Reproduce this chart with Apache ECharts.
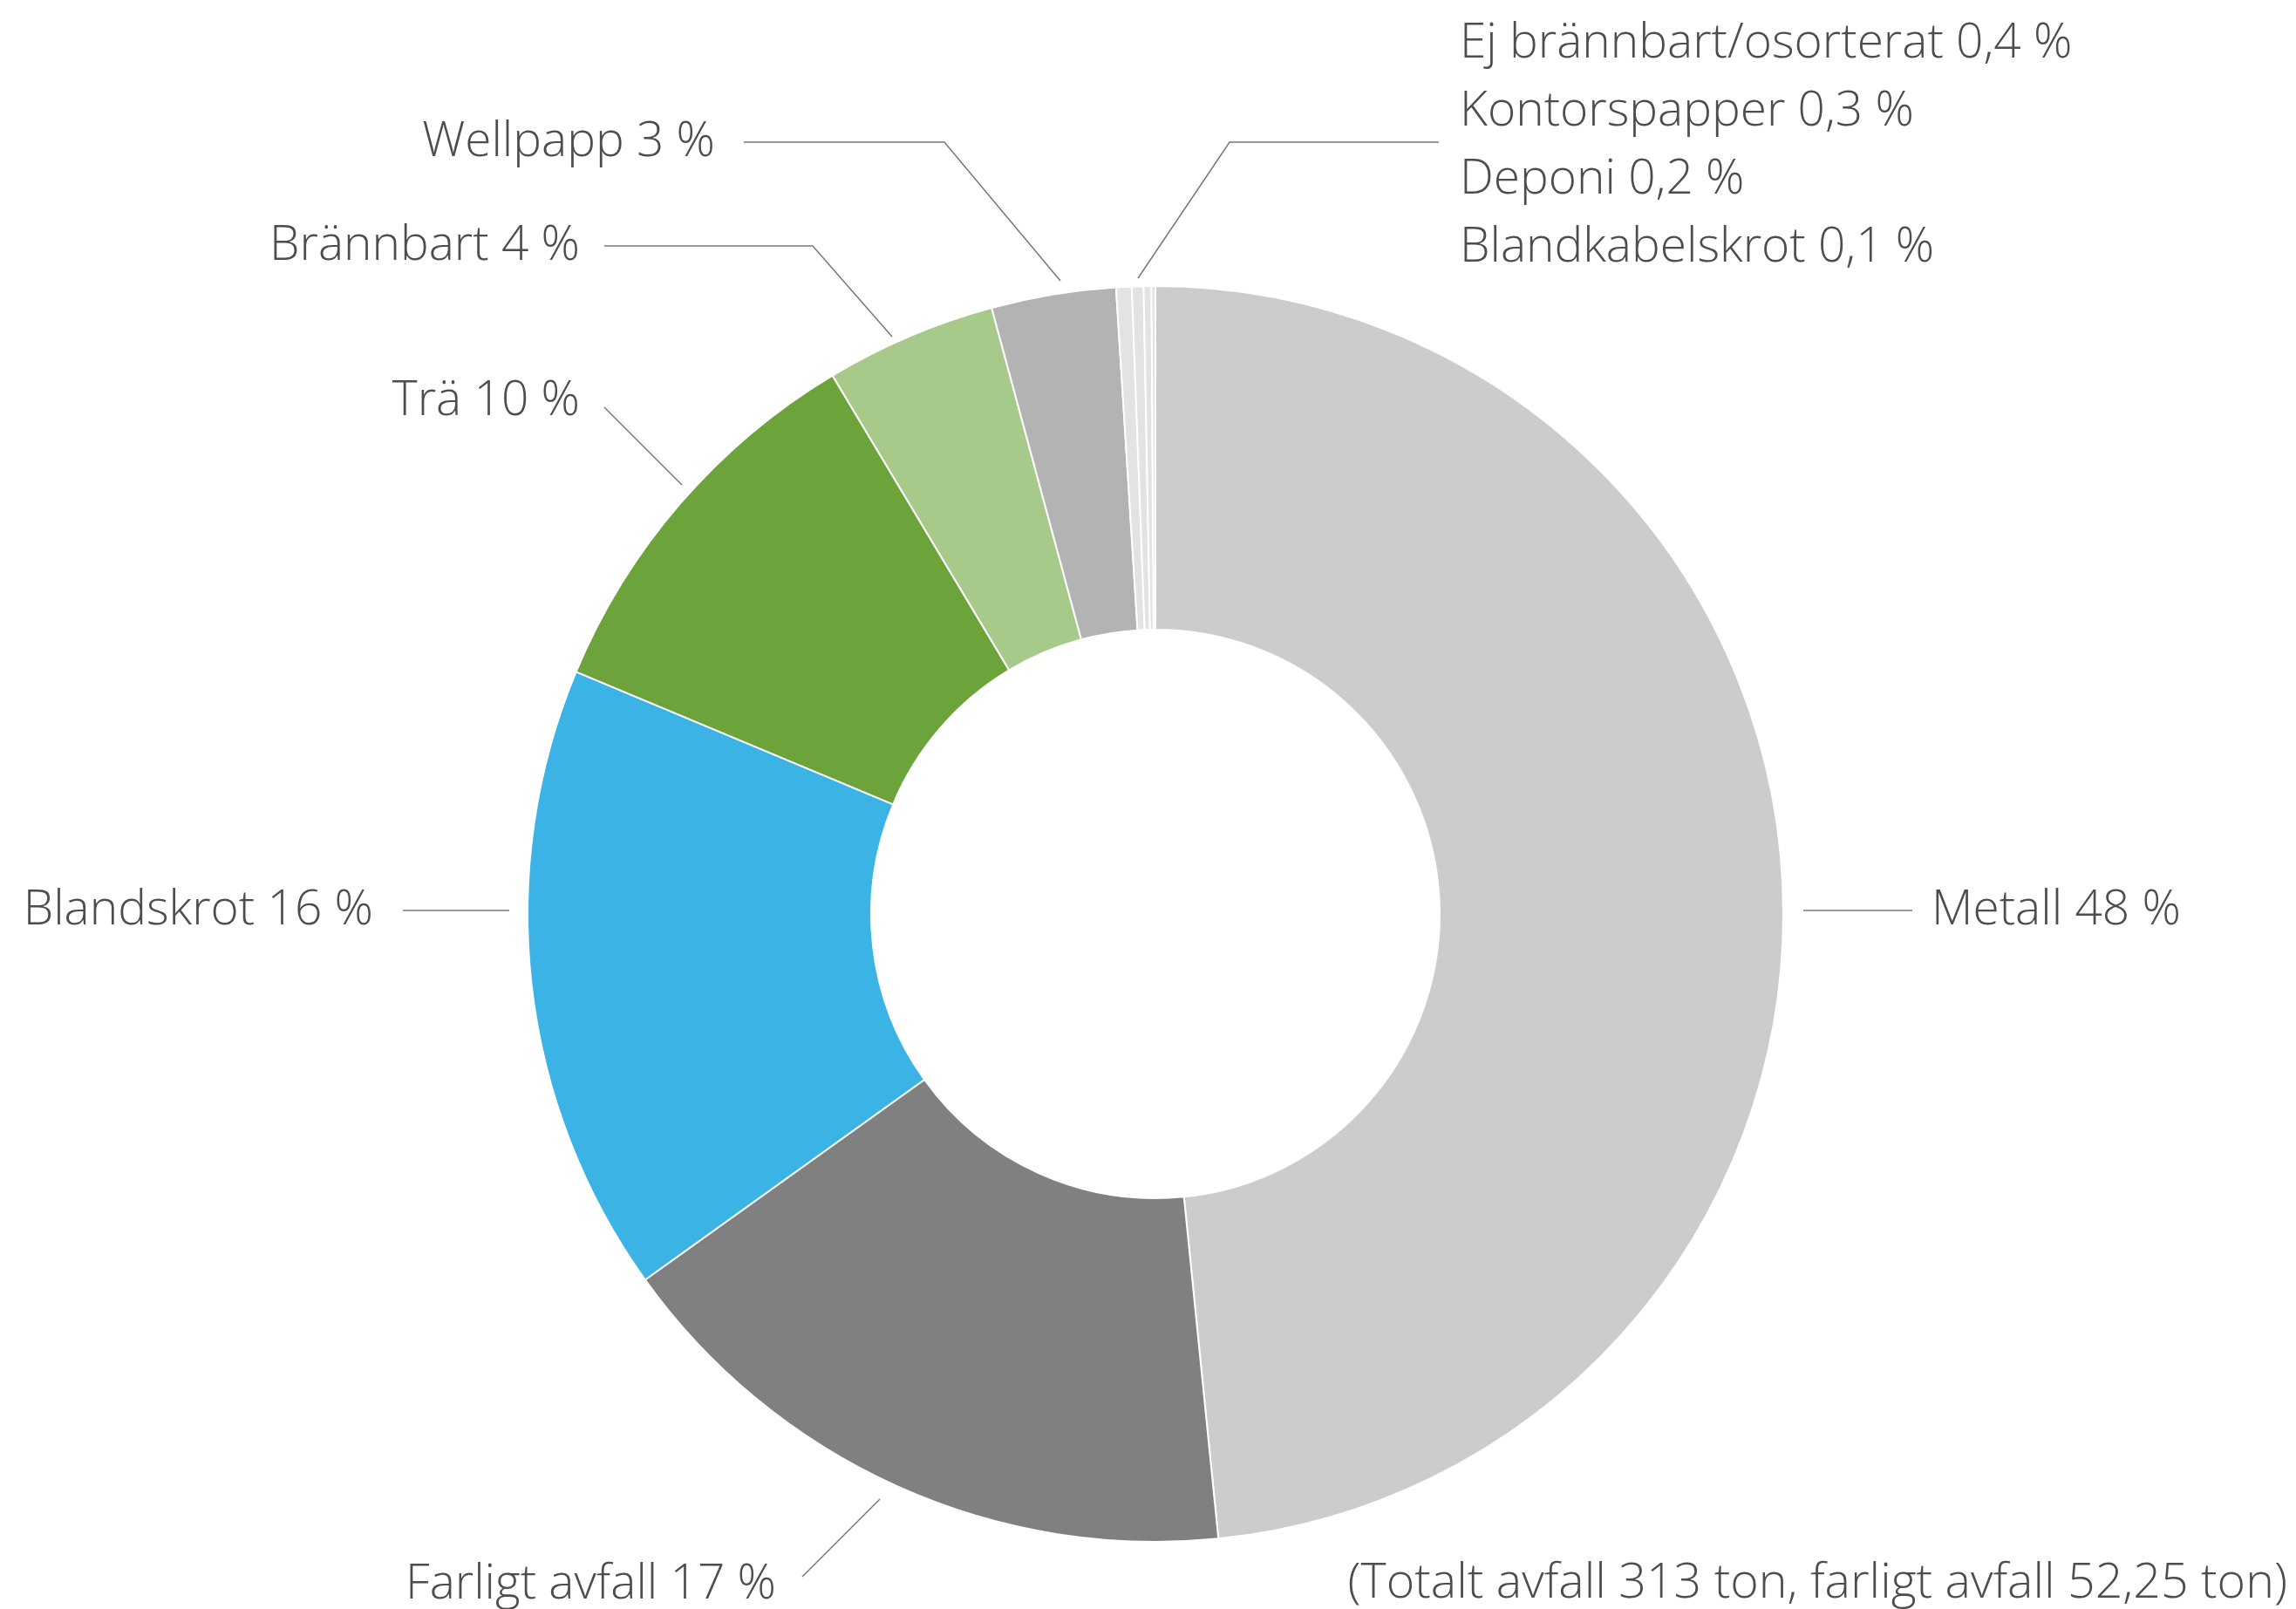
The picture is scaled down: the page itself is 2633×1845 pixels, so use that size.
<!doctype html>
<html lang="sv">
<head>
    <meta charset="UTF-8">
    <title>Avfall</title>
    <style>
        *{margin: 0; padding: 0}
        body{background: #fff}
    </style>
</head>
<body>
<div id="block"></div>

<script src="https://cdn.jsdelivr.net/npm/echarts@6/dist/echarts.min.js"></script>
<script>
    // data
    const names = ['Metall', 'Farligt avfall', 'Blandskrot', 'Trä', 'Brännbart', 'Wellpapp',
        'Ej brännbart/osorterat', 'Kontorspapper', 'Deponi', 'Blandkabelskrot'];
    // slice sizes as measured on the picture (percent)
    const shares = [48.4, 16.7, 16.2, 10.1, 4.4, 3.2, 0.4, 0.3, 0.2, 0.1];
    // the percent texts printed in the labels
    const shareTexts = ['48 %', '17 %', '16 %', '10 %', '4 %', '3 %', '0,4 %', '0,3 %', '0,2 %', '0,1 %'];
    const colors = ['#cccccc', '#808080', '#3cb3e5', '#6ca33a', '#a7c98a', '#b3b3b3',
        '#e3e3e3', '#e3e3e3', '#e3e3e3', '#e3e3e3'];
    const footNote = '(Totalt avfall 313 ton, farligt avfall 52,25 ton)';
</script>
<script>
    const block = document.getElementById('block');
    block.style.width = '2633px'; block.style.height = '1845px';
    const chart = echarts.init(block);

    const font = '"Open Sans", "Noto Sans", sans-serif';
    const smallGroup = [6, 7, 8, 9];   // the four tiny slices share one label
    const groupLabelIdx = 7;

    // where labels and leader lines go
    const labelSpots = {
        0: {x: 2215, y: 1044, align: 'left',  line: [[2068, 1044], [2193, 1044]]},
        1: {x: 890,  y: 1817, align: 'right', line: [[1009, 1719], [920, 1808]]},
        2: {x: 428,  y: 1044, align: 'right', line: [[584, 1044], [462, 1044]]},
        3: {x: 665,  y: 460,  align: 'right', line: [[782, 556], [693, 467]]},
        4: {x: 665,  y: 282,  align: 'right', line: [[1023, 386], [932, 282], [693, 282]]},
        5: {x: 820,  y: 163,  align: 'right', line: [[1216, 322], [1083, 163], [853, 163]]},
        7: {x: 1674, y: 167,  align: 'left',  line: [[1305, 319], [1410, 163], [1650, 163]]}
    };

    const pieData = names.map((n, i) => {
        const item = {name: n, value: shares[i], itemStyle: {color: colors[i]}};
        if (smallGroup.indexOf(i) >= 0 && i !== groupLabelIdx) {
            item.label = {show: false};
            item.labelLine = {show: false};
        }
        return item;
    });

    let option = {
        animation: false,
        series: [{
            type: 'pie',
            center: [1325, 1048],
            radius: [326, 720],
            startAngle: 90,
            clockwise: true,
            avoidLabelOverlap: false,
            itemStyle: {borderColor: '#ffffff', borderWidth: 2},
            label: {
                show: true,
                position: 'outside',
                fontFamily: font,
                fontWeight: 300,
                fontSize: 55,
                lineHeight: 78,
                color: '#4d4d4d',
                formatter: function(p) {
                    if (p.dataIndex === groupLabelIdx) {
                        return smallGroup.map(i => names[i] + ' ' + shareTexts[i]).join('\n');
                    }
                    return names[p.dataIndex] + ' ' + shareTexts[p.dataIndex];
                }
            },
            labelLine: {show: true, smooth: false, lineStyle: {color: '#777777', width: 1.5}},
            labelLayout: function(params) {
                const s = labelSpots[params.dataIndex];
                if (!s) return {};
                return {x: s.x, y: s.y, align: s.align, verticalAlign: 'middle', labelLinePoints: s.line};
            },
            emphasis: {disabled: true},
            data: pieData
        }],
        graphic: [{
            type: 'text',
            right: 10,
            top: 1788,
            style: {text: footNote, font: '300 55.5px ' + font, fill: '#4d4d4d'}
        }]
    };
    chart.setOption(option);
</script>
</body>
</html>
